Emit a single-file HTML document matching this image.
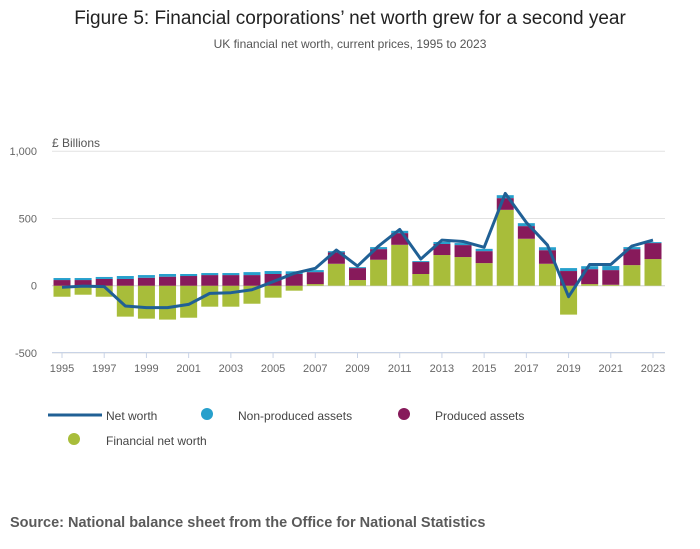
<!DOCTYPE html>
<html><head><meta charset="utf-8"><style>
body{margin:0;background:#fff;font-family:"Liberation Sans",sans-serif;}
#wrap{position:relative;width:700px;height:549px;overflow:hidden;}
</style></head><body>
<div id="wrap">
<svg id="chart" width="700" height="549">
<text x="350" y="24" text-anchor="middle" font-size="19" fill="#222">Figure 5: Financial corporations’ net worth grew for a second year</text>
<text x="350" y="48" text-anchor="middle" font-size="12" fill="#555">UK financial net worth, current prices, 1995 to 2023</text>
<text x="52" y="147" font-size="12" fill="#555">£ Billions</text>
<g id="grid"></g><g id="bars"></g><g id="line"></g><g id="xaxis"></g>
<g>
<line x1="48" y1="415" x2="102" y2="415" stroke="#206095" stroke-width="3"/>
<text x="106" y="420" font-size="12" fill="#444">Net worth</text>
<circle cx="207" cy="414" r="6" fill="#27a0cc"/>
<text x="238" y="420" font-size="12" fill="#444">Non-produced assets</text>
<circle cx="404" cy="414" r="6" fill="#871a5b"/>
<text x="435" y="420" font-size="12" fill="#444">Produced assets</text>
<circle cx="74" cy="439" r="6" fill="#a8bd3a"/>
<text x="106" y="445" font-size="12" fill="#444">Financial net worth</text>
</g>
<text x="10" y="527" font-size="14.5" font-weight="bold" fill="#5a5a5a">Source: National balance sheet from the Office for National Statistics</text>
</svg>
</div>
<script>
const years=[1995,1996,1997,1998,1999,2000,2001,2002,2003,2004,2005,2006,2007,2008,2009,2010,2011,2012,2013,2014,2015,2016,2017,2018,2019,2020,2021,2022,2023];
const financial=[-82,-67,-82,-230,-245,-252,-238,-156,-156,-134,-89,-37,12,163,42,193,304,87,228,213,168,564,349,163,-215,12,7,153,198];
const produced=[42,42,50,50,59,67,72,79,79,79,87,87,89,84,89,79,87,89,82,89,89,87,94,101,109,111,109,119,119];
const nonProduced=[15,15,15,22,20,20,15,15,15,22,22,20,15,10,7,15,17,7,15,15,17,22,22,22,22,22,30,15,7];
const netWorth=[-12,-3,-7,-151,-163,-163,-139,-57,-52,-30,30,92,129,265,146,295,418,198,339,329,285,686,470,302,-82,158,158,295,339];
const yTicks=[-500,0,500,1000];
const yTickLabels=["-500","0","500","1,000"];
const xTickYears=[1995,1997,1999,2001,2003,2005,2007,2009,2011,2013,2015,2017,2019,2021,2023];

const NS="http://www.w3.org/2000/svg";
const y=v=>285.7-v*0.1345;
const x=yr=>62+(yr-1995)*(591/28);
function mk(tag,attrs,parent){const e=document.createElementNS(NS,tag);for(const k in attrs)e.setAttribute(k,attrs[k]);parent.appendChild(e);return e;}
const grid=document.getElementById('grid');
yTicks.forEach((t,i)=>{
  const l=mk('line',{x1:52,x2:665,y1:y(t),y2:y(t),stroke:t===0?'#d0d0d0':'#e2e2e2','stroke-width':1},grid);
  
  
  const tx=mk('text',{x:37,y:y(t)+4,'text-anchor':'end','font-size':11,fill:'#666'},grid);
  tx.textContent=yTickLabels[i];
  
  
});
const bars=document.getElementById('bars');
const bw=17;
years.forEach((yr,i)=>{
  const cx=x(yr);
  const f=financial[i];
  const r1=mk('rect',{x:cx-bw/2,y:Math.min(y(0),y(f)),width:bw,height:Math.abs(y(f)-y(0)),fill:'#a8bd3a'},bars);
  
  
  const base=Math.max(f,0);
  const p=produced[i];
  const r2=mk('rect',{x:cx-bw/2,y:y(base+p),width:bw,height:y(base)-y(base+p),fill:'#871a5b'},bars);
  
  
  const n=nonProduced[i];
  const r3=mk('rect',{x:cx-bw/2,y:y(base+p+n),width:bw,height:y(base+p)-y(base+p+n),fill:'#27a0cc'},bars);
  
  
});
const pl=mk('polyline',{points:years.map((yr,i)=>x(yr)+','+y(netWorth[i])).join(' '),fill:'none',stroke:'#206095','stroke-width':3,'stroke-linejoin':'round'},document.getElementById('line'));


const xa=document.getElementById('xaxis');
const ax=mk('line',{x1:52,x2:665,y1:352.5,y2:352.5,stroke:'#c8d3e6','stroke-width':1},xa);


xTickYears.forEach(yr=>{
  const t=mk('line',{x1:x(yr),x2:x(yr),y1:352.5,y2:358,stroke:'#c8d3e6'},xa);
  
  
  const tx=mk('text',{x:x(yr),y:372,'text-anchor':'middle','font-size':11,fill:'#666'},xa);
  tx.textContent=yr;
  
  
});
</script>
</body></html>
